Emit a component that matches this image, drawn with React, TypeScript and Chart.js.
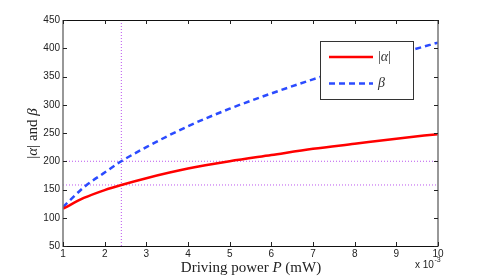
import React, { useEffect, useRef } from "react";
import { Chart, registerables } from "chart.js";

Chart.register(...registerables);

// Driving power P (x 10^-3 mW)
const powerX = [1, 1.5, 2, 2.4, 3, 4, 5, 6, 7, 8, 9, 10];
const alphaAbs = [116, 135, 149, 158, 170, 187, 200, 211, 222, 231, 240, 248];
const betaVals = [119, 154, 180, 200, 225, 262, 293, 320, 345, 368, 389, 410];
const refYs = [200, 158];
const refXs = [2.4];
const xTicks = [1, 2, 3, 4, 5, 6, 7, 8, 9, 10];
const yTicks = [50, 100, 150, 200, 250, 300, 350, 400, 450];

const RED = "#ff0000";
const BLUE = "#2b4bff";
const REF = "#bb55ee";
const SERIF = "'Liberation Serif', 'DejaVu Serif', serif";
const SANS = "'Liberation Sans', Arial, sans-serif";

type Seg = { t: string; it?: boolean };

function drawRich(ctx: CanvasRenderingContext2D, segs: Seg[], x: number, y: number, size: number, align: "left" | "center") {
  const fontOf = (s: Seg) => `${s.it ? "italic " : ""}${size}px ${SERIF}`;
  let total = 0;
  const widths = segs.map((s) => {
    ctx.font = fontOf(s);
    const w = ctx.measureText(s.t).width;
    total += w;
    return w;
  });
  let cx = align === "center" ? x - total / 2 : x;
  ctx.textAlign = "left";
  ctx.textBaseline = "middle";
  segs.forEach((s, i) => {
    ctx.font = fontOf(s);
    ctx.fillText(s.t, cx, y);
    cx += widths[i];
  });
}

const decorPlugin = {
  id: "decor",
  afterDraw(chart: any) {
    const ctx: CanvasRenderingContext2D = chart.ctx;
    const { left, right, top, bottom } = chart.chartArea;
    const xs = chart.scales.x;
    const ys = chart.scales.y;
    ctx.save();
    // box
    ctx.lineWidth = 1;
    ctx.strokeStyle = "#111";
    ctx.beginPath();
    ctx.moveTo(left, top + 0.5);
    ctx.lineTo(right, top + 0.5);
    ctx.moveTo(left, bottom + 0.5);
    ctx.lineTo(right, bottom + 0.5);
    ctx.stroke();
    ctx.strokeStyle = "#777";
    ctx.lineWidth = 1.5;
    ctx.beginPath();
    ctx.moveTo(left, top);
    ctx.lineTo(left, bottom + 1);
    ctx.moveTo(right, top);
    ctx.lineTo(right, bottom + 1);
    ctx.stroke();
    // inward ticks
    ctx.strokeStyle = "#222";
    ctx.lineWidth = 1;
    ctx.beginPath();
    xTicks.forEach((v) => {
      const px = Math.round(xs.getPixelForValue(v)) + 0.5;
      ctx.moveTo(px, bottom);
      ctx.lineTo(px, bottom - 4);
      ctx.moveTo(px, top);
      ctx.lineTo(px, top + 4);
    });
    yTicks.forEach((v) => {
      const py = Math.round(ys.getPixelForValue(v)) + 0.5;
      ctx.moveTo(left, py);
      ctx.lineTo(left + 4, py);
      ctx.moveTo(right, py);
      ctx.lineTo(right - 4, py);
    });
    ctx.stroke();

    // axis titles
    ctx.fillStyle = "#222";
    drawRich(ctx, [{ t: "Driving power " }, { t: "P", it: true }, { t: " (mW)" }], (left + right) / 2 + 0.5, 268, 15, "center");
    ctx.save();
    ctx.translate(33, 133.5);
    ctx.rotate(-Math.PI / 2);
    drawRich(ctx, [{ t: "|" }, { t: "α", it: true }, { t: "| and " }, { t: "β", it: true }], 0, 0, 15, "center");
    ctx.restore();

    // x 10^-3
    ctx.font = `10px ${SANS}`;
    ctx.textAlign = "left";
    ctx.textBaseline = "middle";
    ctx.fillText("x 10", 415, 265);
    const w = ctx.measureText("x 10").width;
    ctx.font = `7px ${SANS}`;
    ctx.fillText("-3", 415 + w + 0.5, 260.5);

    // legend
    const lx = 320, ly = 41, lw = 93, lh = 58;
    ctx.fillStyle = "#fff";
    ctx.fillRect(lx, ly, lw, lh);
    ctx.strokeStyle = "#333";
    ctx.lineWidth = 1;
    ctx.strokeRect(lx + 0.5, ly + 0.5, lw, lh);
    const ds = chart.data.datasets;
    const rows = [
      { d: ds[0], y: 57, label: [{ t: "|" }, { t: "α", it: true }, { t: "|" }] as Seg[] },
      { d: ds[1], y: 83.5, label: [{ t: "β", it: true }] as Seg[] },
    ];
    rows.forEach((r) => {
      ctx.strokeStyle = r.d.borderColor;
      ctx.lineWidth = r.d.borderWidth;
      ctx.setLineDash(r.d.borderDash || []);
      ctx.beginPath();
      ctx.moveTo(329, r.y);
      ctx.lineTo(373, r.y);
      ctx.stroke();
      ctx.setLineDash([]);
      ctx.fillStyle = "#333";
      drawRich(ctx, r.label, 378, r.y, 14, "left");
    });
    ctx.restore();
  },
};

export default function App() {
  const ref = useRef<HTMLCanvasElement>(null);
  useEffect(() => {
    if (!ref.current) return;
    const refSets: any[] = [
      ...refYs.map((v) => ({
        data: [{ x: 1, y: v }, { x: 10, y: v }],
        borderColor: REF,
        borderWidth: 1,
        borderDash: [1, 2],
        pointRadius: 0,
        order: 2,
      })),
      ...refXs.map((v) => ({
        data: [{ x: v, y: 50 }, { x: v, y: 450 }],
        borderColor: REF,
        borderWidth: 1,
        borderDash: [1, 2],
        pointRadius: 0,
        order: 2,
      })),
    ];
    const chart = new Chart(ref.current, {
      type: "line",
      data: {
        datasets: [
          {
            label: "|α|",
            data: powerX.map((x, i) => ({ x, y: alphaAbs[i] })),
            borderColor: RED,
            borderWidth: 2.5,
            pointRadius: 0,
            cubicInterpolationMode: "monotone",
            order: 0,
          },
          {
            label: "β",
            data: powerX.map((x, i) => ({ x, y: betaVals[i] })),
            borderColor: BLUE,
            borderWidth: 2.5,
            borderDash: [6, 4],
            pointRadius: 0,
            cubicInterpolationMode: "monotone",
            order: 1,
          },
          ...refSets,
        ],
      },
      options: {
        responsive: false,
        animation: false,
        layout: { padding: { left: 0, right: 47, top: 20, bottom: 0 } },
        plugins: { legend: { display: false }, tooltip: { enabled: false } },
        scales: {
          x: {
            type: "linear",
            min: 1,
            max: 10,
            afterFit: (s: any) => {
              s.height = 31;
            },
            afterBuildTicks: (s: any) => {
              s.ticks = xTicks.map((v) => ({ value: v }));
            },
            grid: { display: false, drawTicks: false },
            border: { display: false },
            ticks: { padding: 2, color: "#222", font: { family: SANS, size: 10 }, maxRotation: 0, autoSkip: false },
          },
          y: {
            type: "linear",
            min: 50,
            max: 450,
            afterFit: (s: any) => {
              s.width = 63;
            },
            afterBuildTicks: (s: any) => {
              s.ticks = yTicks.map((v) => ({ value: v }));
            },
            grid: { display: false, drawTicks: false },
            border: { display: false },
            ticks: { padding: 3, color: "#222", font: { family: SANS, size: 10 }, autoSkip: false },
          },
        },
      } as any,
      plugins: [decorPlugin],
    });
    return () => chart.destroy();
  }, []);
  return (
    <div style={{ position: "fixed", left: 0, top: 0, width: 485, height: 277, background: "#fff" }}>
      <canvas ref={ref} width={485} height={277} style={{ display: "block" }} />
    </div>
  );
}
